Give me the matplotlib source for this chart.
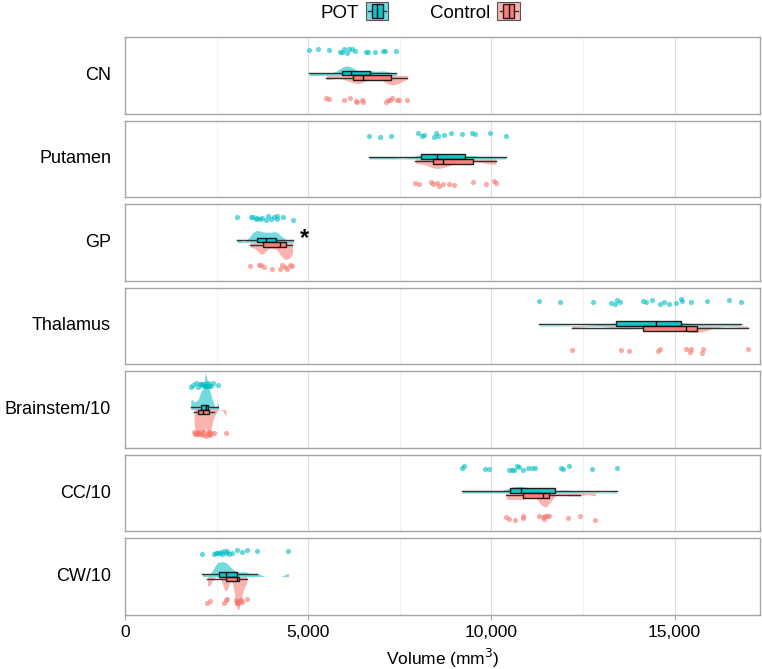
import numpy as np
import matplotlib
matplotlib.use("Agg")
import matplotlib.pyplot as plt
from matplotlib.patches import Rectangle
from matplotlib.lines import Line2D
from matplotlib.ticker import FuncFormatter, MultipleLocator
from matplotlib.legend_handler import HandlerBase

plt.rcParams['font.family'] = ['Liberation Sans', 'DejaVu Sans']

regions = ["CN", "Putamen", "GP", "Thalamus", "Brainstem/10", "CC/10", "CW/10"]
groups = ["POT", "Control"]

cn_pot = [5027, 5273, 5574, 5874, 5929, 5984, 6066, 6120, 6202, 6284, 6585, 6639, 6831, 7049, 7104, 7404]
cn_ctrl = [5492, 5574, 5984, 6148, 6311, 6339, 6475, 6503, 7131, 7186, 7240, 7295, 7432, 7486, 7705]

put_pot = [6666, 6958, 7258, 7986, 8105, 8168, 8442, 8487, 8533, 8715, 8898, 9198, 9471, 9562, 9963, 10400]
put_ctrl = [7923, 8032, 8352, 8415, 8505, 8560, 8688, 8852, 8989, 9508, 9855, 10082, 10128]

gp_pot = [3050, 3434, 3505, 3570, 3615, 3688, 3751, 3844, 3907, 3981, 4071, 4144, 4161, 4325, 4598]
gp_ctrl = [3415, 3661, 3724, 3798, 4025, 4235, 4298, 4371, 4434, 4508, 4571]

thal_pot = [11310, 11876, 12767, 13270, 13361, 13424, 13497, 14134, 14226, 14390, 14589, 14698,
            14835, 15026, 15163, 15199, 15454, 15881, 16474, 16802]
thal_ctrl = [12203, 13523, 13750, 14543, 14608, 15300, 15409, 15454, 15755, 15773, 17000]

bs_pot = [1795, 1850, 1930, 2000, 2060, 2075, 2110, 2150, 2180, 2198, 2204, 2206, 2210, 2262,
          2290, 2300, 2340, 2400, 2550]
bs_ctrl = [1885, 1920, 1948, 1976, 1990, 2022, 2067, 2110, 2131, 2150, 2200, 2270, 2285, 2298,
           2312, 2340, 2431, 2751]

cc_pot = [9198, 9261, 9835, 9925, 10491, 10564, 10627, 10691, 10764, 10855, 10991, 11111, 11201,
          11903, 11966, 12130, 12739, 13422]
cc_ctrl = [10400, 10491, 10655, 10855, 10874, 11311, 11402, 11440, 11475, 11511, 11584, 12084,
           12404, 12840]

cw_pot = [2113, 2432, 2477, 2523, 2568, 2614, 2659, 2705, 2750, 2796, 2841, 2932, 3051, 3204,
          3340, 3614, 4461]
cw_ctrl = [2249, 2322, 2705, 2750, 2796, 3024, 3055, 3062, 3068, 3072, 3130, 3160, 3205, 3323]

pot_data = [cn_pot, put_pot, gp_pot, thal_pot, bs_pot, cc_pot, cw_pot]
ctrl_data = [cn_ctrl, put_ctrl, gp_ctrl, thal_ctrl, bs_ctrl, cc_ctrl, cw_ctrl]
significant = ["GP"]

COL_POT = "#00BFC4"
COL_CTRL = "#F8766D"
ADJUST = 0.5


def bw_nrd0(x):
    x = np.asarray(x, float)
    sd = x.std(ddof=1)
    iqr = (np.percentile(x, 75) - np.percentile(x, 25)) / 1.34
    lo = min(sd, iqr) if iqr > 0 else sd
    return 0.9 * lo * len(x) ** (-0.2)


def kde(x):
    x = np.asarray(x, float)
    bw = bw_nrd0(x) * ADJUST
    grid = np.linspace(x.min(), x.max(), 512)
    d = np.exp(-0.5 * ((grid[:, None] - x[None, :]) / bw) ** 2).sum(1)
    d /= (len(x) * bw * np.sqrt(2 * np.pi))
    return grid, d


dens_pot = [kde(d) for d in pot_data]
dens_ctrl = [kde(d) for d in ctrl_data]
VMAX_POT = 0.93
VMAX_CTRL = 0.86
scale_pot = VMAX_POT / max(d.max() for _, d in dens_pot)
scale_ctrl = VMAX_CTRL / max(d.max() for _, d in dens_ctrl)

W, H = 762, 669
fig = plt.figure(figsize=(W / 100, H / 100), dpi=100)
gs = fig.add_gridspec(7, 1, left=125 / W, right=760 / W, top=1 - 37 / H, bottom=1 - 615 / H,
                      hspace=0.085)
rng = np.random.default_rng(7)

for i, name in enumerate(regions):
    ax = fig.add_subplot(gs[i])
    ax.set_xlim(0, 17330)
    ax.set_ylim(-1, 1)
    ax.xaxis.set_major_locator(MultipleLocator(5000))
    ax.xaxis.set_minor_locator(MultipleLocator(2500))
    ax.grid(which='major', axis='x', color='#DEDEDE', lw=0.8, zorder=0)
    ax.grid(which='minor', axis='x', color='#EFEFEF', lw=0.6, zorder=0)
    ax.set_yticks([])
    for s in ax.spines.values():
        s.set_color('#A6A6A6')
        s.set_linewidth(1.0)
    ax.tick_params(axis='x', which='major', color='#A6A6A6', labelsize=12.5, length=3.5, pad=4)
    ax.tick_params(axis='x', which='minor', length=0)
    if i < 6:
        ax.tick_params(axis='x', which='both', labelbottom=False, length=0)
    else:
        ax.xaxis.set_major_formatter(FuncFormatter(lambda v, p: f"{int(v):,}"))
        ax.set_xlabel("Volume (mm$^3$)", fontsize=12.5, labelpad=5)

    # half violins
    g, d = dens_pot[i]
    ax.fill_between(g, 0, d * scale_pot, color=COL_POT, alpha=0.55, lw=0, zorder=2)
    g, d = dens_ctrl[i]
    ax.fill_between(g, 0, -d * scale_ctrl, color=COL_CTRL, alpha=0.55, lw=0, zorder=2)

    # jittered points
    p = np.asarray(pot_data[i])
    c = np.asarray(ctrl_data[i])
    ax.scatter(p, 0.64 + rng.uniform(-0.06, 0.06, len(p)), s=14, color=COL_POT, alpha=0.6,
               lw=0, zorder=3)
    ax.scatter(c, -0.64 + rng.uniform(-0.06, 0.06, len(c)), s=14, color=COL_CTRL, alpha=0.6,
               lw=0, zorder=3)

    # boxplots
    for data, pos, col in [(p, 0.06, COL_POT), (c, -0.06, COL_CTRL)]:
        bp = ax.boxplot([data], vert=False, positions=[pos], widths=0.12, showfliers=False,
                        showcaps=False, patch_artist=True, whis=1.5, manage_ticks=False,
                        zorder=4)
        for b in bp['boxes']:
            b.set_facecolor(col)
            b.set_alpha(0.85)
            b.set_edgecolor('black')
            b.set_linewidth(1.0)
        for w in bp['whiskers']:
            w.set_color('#333333')
            w.set_linewidth(1.0)
        for m in bp['medians']:
            m.set_color('black')
            m.set_linewidth(1.0)

    if name in significant:
        xmax = max(p.max(), c.max())
        ax.text(xmax + 180, 0.1, "*", fontsize=17, fontweight='bold', ha='left', va='center')

    ax.text(-0.022, 0.5, name, transform=ax.transAxes, ha='right', va='center', fontsize=13)


class BoxKey(HandlerBase):
    def create_artists(self, legend, orig_handle, xdescent, ydescent, width, height, fontsize, trans):
        col = orig_handle.get_facecolor()
        x0, y0 = -xdescent, -ydescent
        arts = []
        bg = Rectangle((x0, y0), width, height, facecolor=col, alpha=0.55, edgecolor='none',
                       transform=trans)
        arts.append(bg)
        box = Rectangle((x0 + width * 0.25, y0 + height * 0.1), width * 0.5, height * 0.8,
                        facecolor=col, alpha=0.85, edgecolor='black', lw=1.0, transform=trans)
        arts.append(box)
        arts.append(Line2D([x0 + width * 0.5] * 2, [y0 + height * 0.1, y0 + height * 0.9],
                           color='black', lw=1.0, transform=trans))
        arts.append(Line2D([x0 + width * 0.1, x0 + width * 0.25], [y0 + height * 0.5] * 2,
                           color='#333333', lw=1.0, transform=trans))
        arts.append(Line2D([x0 + width * 0.75, x0 + width * 0.9], [y0 + height * 0.5] * 2,
                           color='#333333', lw=1.0, transform=trans))
        frame = Rectangle((x0, y0), width, height, facecolor='none', edgecolor='#555555',
                          lw=0.8, transform=trans)
        arts.append(frame)
        return arts


handles = [Rectangle((0, 0), 1, 1, facecolor=COL_POT), Rectangle((0, 0), 1, 1, facecolor=COL_CTRL)]
fig.legend(handles, groups, handler_map={Rectangle: BoxKey()}, loc='center',
           bbox_to_anchor=(420 / W, 1 - 12 / H), ncol=2, frameon=False, markerfirst=False,
           fontsize=13.5, handlelength=1.2, handleheight=1.05, handletextpad=0.4,
           columnspacing=2.2)

fig.savefig("out.png", dpi=100)
